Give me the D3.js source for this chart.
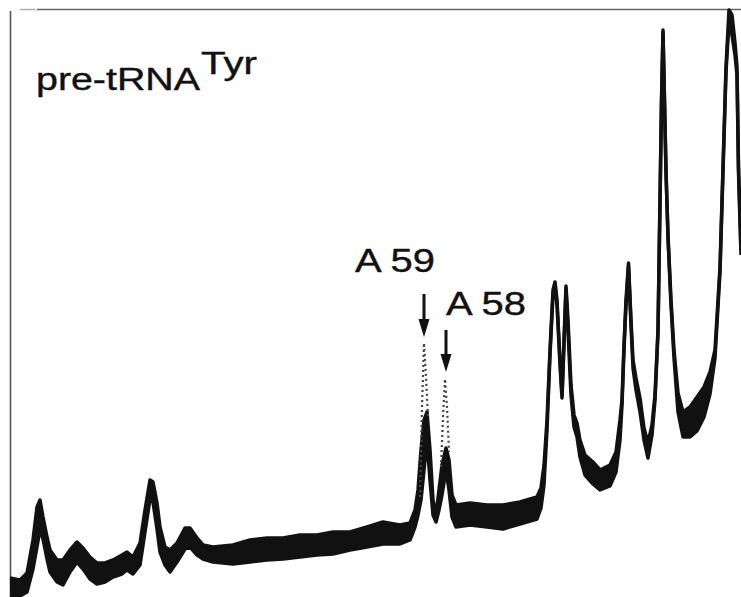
<!DOCTYPE html>
<html>
<head>
<meta charset="utf-8">
<script src="https://cdn.jsdelivr.net/npm/d3@7/dist/d3.min.js"></script>
<style>
  body { margin: 0; background: #fff; }
  text { font-family: "Liberation Sans", Arial, Helvetica, sans-serif; fill: #111; stroke: #111; stroke-width: 0.4; }
</style>
</head>
<body>
<svg id="chart"></svg>
<script>
var width = 741, height = 597;

// scan position along the lane (arbitrary units)
var position = [10, 20, 27, 33, 37, 40, 43, 47, 50, 57, 63, 70, 77, 83, 90, 97, 105, 113, 122, 127,
  133, 140, 145, 150, 153, 157, 160, 165, 170, 177, 185, 190, 197, 203, 213, 233, 250, 267, 283, 300,
  317, 333, 350, 367, 383, 400, 410, 415, 418, 421, 424, 427, 430, 433, 436, 439, 442, 446, 449, 452,
  456, 470, 487, 503, 520, 537, 541, 544, 547, 550, 553, 555, 557, 560, 562, 564, 566, 568, 571, 574,
  577, 580, 585, 593, 600, 610, 616, 620, 622, 624, 626, 628.5, 631, 633, 636, 640, 644, 648, 652, 655,
  658, 660, 661.5, 663, 664.5, 666, 668, 671, 674, 678, 683, 690, 697, 704, 710, 715, 720, 723, 726, 729,
  732, 735, 737, 738.5, 741];

// upper and lower edge of the recorded trace (absorbance, arbitrary units)
var upperEdge = [19, 17, 24, 57, 90, 97, 80, 60, 47, 37, 37, 47, 55, 49, 40, 34, 34, 37, 42, 45,
  40, 54, 87, 117, 115, 94, 70, 50, 47, 54, 69, 69, 59, 52, 50, 52, 57, 59, 59, 62,
  62, 65, 65, 70, 75, 72, 74, 87, 107, 147, 177, 185, 147, 97, 82, 107, 132, 149, 137, 102,
  92, 94, 92, 92, 95, 100, 109, 132, 177, 247, 307, 315, 297, 237, 202, 257, 311, 277, 212, 182,
  174, 157, 142, 135, 127, 132, 145, 177, 197, 252, 297, 334, 277, 237, 219, 199, 169, 154, 172, 202,
  267, 397, 497, 567, 497, 427, 362, 297, 247, 204, 185, 190, 200, 210, 225, 247, 330, 430, 530, 587,
  582, 554, 530, 430, 347];
var lowerEdge = [0, 1, 5, 28, 50, 68, 58, 38, 25, 15, 12, 25, 35, 28, 18, 13, 15, 20, 23, 27,
  23, 32, 65, 98, 95, 68, 45, 32, 25, 35, 48, 50, 42, 38, 35, 33, 35, 37, 38, 40,
  42, 43, 47, 50, 53, 53, 57, 70, 82, 97, 127, 157, 117, 82, 75, 87, 102, 127, 107, 80,
  70, 72, 70, 68, 73, 78, 89, 112, 167, 242, 302, 312, 292, 232, 199, 252, 307, 267, 202, 170,
  160, 140, 122, 113, 107, 111, 125, 157, 192, 247, 292, 331, 272, 229, 207, 185, 157, 139, 162, 197,
  264, 394, 494, 564, 494, 424, 359, 292, 239, 185, 160, 160, 166, 180, 203, 239, 325, 425, 525, 575,
  562, 542, 522, 425, 342];

// faint dotted tips of the A59 and A58 peaks
var a59TipPos = [420, 422, 424, 426, 428];
var a59TipVal = [100, 190, 254, 220, 180];
var a58TipPos = [441, 443, 445, 447, 449];
var a58TipVal = [130, 180, 218, 190, 145];

// peak labels
var peakLabels = ['A 59', 'A 58'];
var peakPos = [424, 446];

var svg = d3.select('#chart').attr('width', width).attr('height', height);

var x = d3.scaleLinear().domain([0, 741]).range([0, width]);
var y = d3.scaleLinear().domain([0, 597]).range([height, 0]);

// frame
svg.append('line').attr('x1', 10.5).attr('x2', 10.5).attr('y1', 11).attr('y2', height)
  .attr('stroke', '#555').attr('stroke-width', 1.6);
svg.append('line').attr('x1', 20).attr('x2', 36).attr('y1', 9.5).attr('y2', 9.5)
  .attr('stroke', '#aaa').attr('stroke-width', 1.4);
svg.append('line').attr('x1', 37).attr('x2', width).attr('y1', 9.5).attr('y2', 9.5)
  .attr('stroke', '#666').attr('stroke-width', 1.6);

var pts = position.map(function(p, i) { return { x: p, hi: upperEdge[i], lo: lowerEdge[i] }; });

var area = d3.area()
  .x(function(d) { return x(d.x); })
  .y0(function(d) { return y(d.lo); })
  .y1(function(d) { return y(d.hi); });

var lineHi = d3.line().x(function(d) { return x(d.x); }).y(function(d) { return y(d.hi); });
var lineLo = d3.line().x(function(d) { return x(d.x); }).y(function(d) { return y(d.lo); });

svg.append('path').datum(pts).attr('d', area).attr('fill', '#111');
svg.append('path').datum(pts).attr('d', lineHi)
  .attr('fill', 'none').attr('stroke', '#111').attr('stroke-width', 3.5).attr('stroke-linejoin', 'round');
svg.append('path').datum(pts).attr('d', lineLo)
  .attr('fill', 'none').attr('stroke', '#111').attr('stroke-width', 3.5).attr('stroke-linejoin', 'round');

// dotted peak tips
[[a59TipPos, a59TipVal], [a58TipPos, a58TipVal]].forEach(function(t) {
  var tip = t[0].map(function(p, i) { return [p, t[1][i]]; });
  svg.append('path')
    .datum(tip)
    .attr('d', d3.line().x(function(d) { return x(d[0]); }).y(function(d) { return y(d[1]); }))
    .attr('fill', 'none').attr('stroke', '#444').attr('stroke-width', 2.2)
    .attr('stroke-dasharray', '2,3');
});

// title
svg.append('text').attr('x', 36).attr('y', 90).attr('font-size', 31)
  .attr('textLength', 164).attr('lengthAdjust', 'spacingAndGlyphs').text('pre-tRNA');
svg.append('text').attr('x', 201).attr('y', 74).attr('font-size', 31)
  .attr('textLength', 56).attr('lengthAdjust', 'spacingAndGlyphs').text('Tyr');

// labels + arrows
var labelX = [355, 446];
var labelY = [272, 315];
var arrowTop = [294, 330];
var arrowTip = [337, 372];
peakLabels.forEach(function(l, i) {
  svg.append('text').attr('x', labelX[i]).attr('y', labelY[i]).attr('font-size', 34)
    .attr('textLength', 80).attr('lengthAdjust', 'spacingAndGlyphs').text(l);
  var ax = x(peakPos[i]);
  svg.append('line').attr('x1', ax).attr('x2', ax).attr('y1', arrowTop[i]).attr('y2', arrowTip[i] - 12)
    .attr('stroke', '#111').attr('stroke-width', 3);
  svg.append('path')
    .attr('d', 'M' + (ax - 5.5) + ',' + (arrowTip[i] - 18) + 'L' + (ax + 5.5) + ',' + (arrowTip[i] - 18) + 'L' + ax + ',' + arrowTip[i] + 'Z')
    .attr('fill', '#111');
});
</script>
</body>
</html>
